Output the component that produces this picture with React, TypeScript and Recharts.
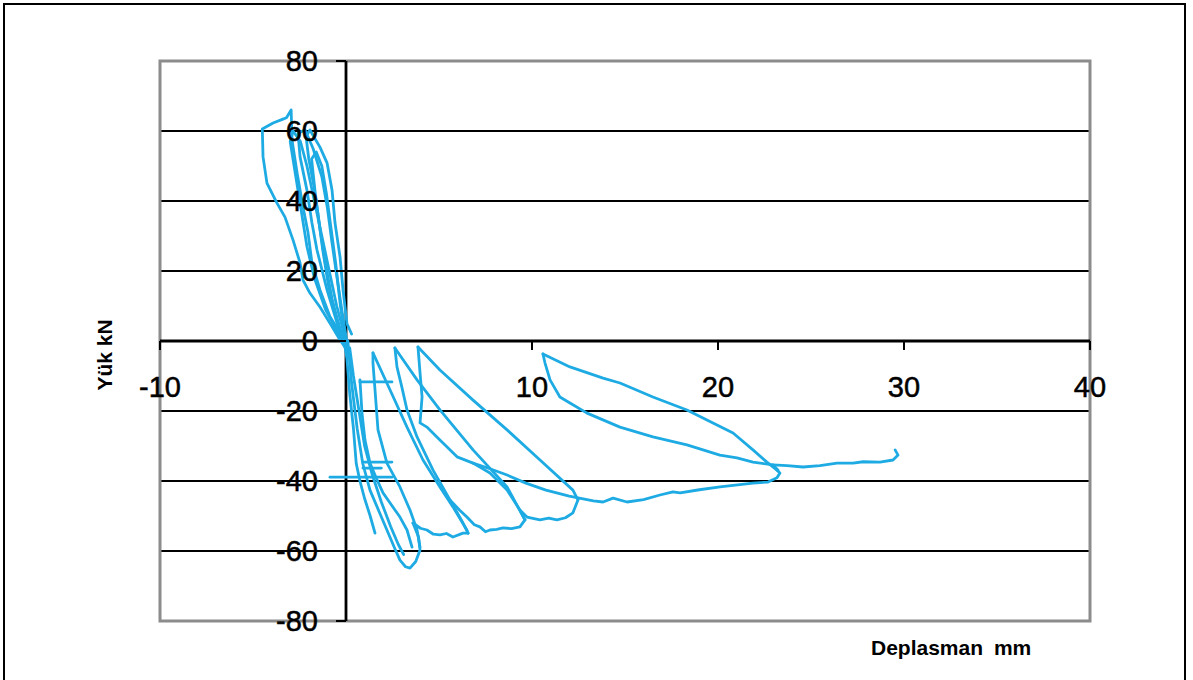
import React from 'react';
import { LineChart, Line, XAxis, YAxis, CartesianGrid, ReferenceLine, ReferenceArea } from 'recharts';

// displacement (mm), load (kN) pairs, one array per traced branch of the hysteresis curve
const negLoop1: [number, number][] = [
  [0.3, 2], [0.05, 5], [-0.16, 14.6], [-0.32, 24], [-0.59, 33.7], [-0.75, 43.1], [-1.02, 50.9], [-1.4, 55.4],
  [-1.94, 60.3], [-2.15, 58.5], [-2.0, 52], [-1.75, 45], [-1.5, 36], [-1.25, 26], [-0.95, 16], [-0.55, 7], [-0.1, 0],
];
const negLoop2: [number, number][] = [
  [0.1, -2], [-0.2, 8], [-0.48, 18], [-0.75, 28], [-1.0, 38], [-1.3, 47], [-1.77, 55], [-2.2, 60.3], [-2.58, 59.4],
  [-2.47, 52.6], [-2.1, 43.1], [-1.83, 33.7], [-1.56, 26], [-1.02, 14.6], [-0.48, 5.1], [0.05, -3],
];
const negLoop3: [number, number][] = [
  [0, -1], [-0.3, 10], [-0.55, 22], [-0.8, 32], [-1.05, 42], [-1.3, 50], [-1.6, 54], [-1.85, 52], [-1.65, 42],
  [-1.4, 32], [-1.1, 22], [-0.75, 12], [-0.3, 3], [0.15, -4],
];
const negLoop4: [number, number][] = [
  [0.05, -1], [-0.5, 10], [-0.9, 20], [-1.3, 30], [-1.7, 40], [-2.1, 50], [-2.45, 57], [-2.85, 60], [-3.0, 57],
  [-2.7, 47], [-2.4, 37], [-2.1, 27], [-1.7, 18], [-1.1, 9], [-0.4, 2], [0.1, -2],
];
const negLoop5: [number, number][] = [
  [0, -1], [-0.4, 3], [-0.86, 6.9], [-1.4, 14.6], [-1.83, 22.3], [-2.04, 30.9], [-2.31, 38.3], [-2.63, 48],
  [-2.9, 57.4], [-2.95, 66], [-3.2, 63.8], [-3.39, 63.4], [-3.92, 62.3], [-4.5, 60.6], [-4.46, 52.6], [-4.25, 45.1],
  [-3.71, 39.4], [-3.28, 35.4], [-2.85, 28.9], [-2.47, 22.3], [-2.31, 17.4], [-1.94, 13.7], [-1.4, 9.7],
  [-0.86, 5.1], [-0.32, 0.3], [0.1, -3],
];
const bandA: [number, number][] = [
  [-0.2, 3], [0.05, -5], [0.2, -15], [0.4, -25], [0.55, -35], [0.75, -40], [1.0, -45], [1.3, -50], [1.56, -54.9],
];
const bandB: [number, number][] = [
  [0.1, 0], [0.3, -12], [0.6, -25], [0.9, -35], [1.29, -42.6], [1.8, -49], [2.2, -54], [2.6, -59], [2.9, -62.6],
  [3.2, -64.5], [3.44, -64.9], [3.75, -63], [3.98, -59.7], [3.9, -56], [3.82, -54.9], [3.6, -52],
];
const bandC: [number, number][] = [
  [0.2, -2], [0.4, -10], [0.7, -20], [1.0, -30], [1.4, -38], [1.9, -46], [2.4, -53], [2.8, -58], [3.1, -61],
];
const fin1Inner: [number, number][] = [
  [0.75, -11.1], [0.86, -20.6], [1.02, -28.3], [1.29, -34.9], [1.67, -39.7], [1.99, -43.4], [2.37, -46.3],
  [2.9, -50.3], [3.28, -54], [3.55, -58.9],
];
const dashA: [number, number][] = [[0.75, -11.7], [2.47, -11.7]];
const dashB: [number, number][] = [[0.91, -34.6], [2.47, -34.6]];
const dashC: [number, number][] = [[-0.86, -38.9], [2.47, -38.9]];
const dashD: [number, number][] = [[0.91, -36.3], [1.9, -36.3]];
const fin1Curve: [number, number][] = [
  [1.45, -3.4], [1.45, -6.3], [1.56, -14], [1.72, -25.4], [2.2, -34.9], [2.9, -41.7], [3.44, -48.3], [3.82, -54],
  [3.98, -58.9],
];
const fin1Straight: [number, number][] = [
  [1.45, -3.4], [2.37, -14], [3.28, -24.6], [4.14, -34], [5.05, -41.7], [5.75, -47.4], [6.5, -54], [6.56, -54.9],
];
const fin2Bottom: [number, number][] = [
  [3.6, -52], [4.0, -53.5], [4.35, -54], [4.7, -55.2], [5.05, -55.4], [5.4, -55], [5.75, -56], [6.29, -54.9], [6.56, -54.9],
];
const fin2Curve: [number, number][] = [
  [2.63, -2], [2.74, -7.4], [3.0, -13.1], [3.28, -19.7], [3.82, -27.4], [4.68, -36.9], [5.59, -45.4], [6.29, -52], [6.56, -54.9],
];
const fin2Straight: [number, number][] = [
  [2.63, -2], [3.82, -11.1], [5.05, -19.7], [6.83, -31.1], [8.66, -41.7], [9.62, -51.1],
];
const fin3Bottom: [number, number][] = [
  [5.59, -45.4], [6.1, -48.3], [6.5, -50.3], [6.9, -52.5], [7.2, -53.1], [7.5, -54.5], [7.74, -54], [8.1, -53.8],
  [8.44, -53.4], [8.9, -53.6], [9.35, -53.1], [9.62, -51.1],
];
const fin3Curve: [number, number][] = [
  [3.87, -1.7], [3.98, -9.1], [4.09, -16], [3.98, -23.4], [4.35, -24.6], [5.05, -28.3], [5.97, -33.1], [6.83, -34.9],
  [7.74, -37.7], [8.66, -42.6], [9.35, -48.3], [9.62, -51.1],
];
const fin3Straight: [number, number][] = [
  [3.87, -1.7], [5.05, -8.3], [6.83, -16.9], [8.66, -25.4], [10.43, -34], [12.2, -42.6], [12.47, -45.4],
];
const fin4Bottom: [number, number][] = [
  [9.35, -48.3], [9.73, -50.3], [10.43, -51.1], [10.9, -50.6], [11.34, -51.1], [11.8, -50.5], [12.2, -49.1], [12.47, -45.4],
];
const envelope: [number, number][] = [
  [6.83, -34.9], [7.74, -36.5], [8.66, -38.3], [9.67, -40.6], [10.75, -42.6], [12.0, -44.3], [13.3, -45.7],
  [13.82, -46], [14.36, -44.9], [15.11, -46], [16.0, -45.3], [16.88, -44], [17.58, -43.1], [17.96, -43.4],
  [19.0, -42.5], [20.11, -41.7], [21.88, -40.6], [22.69, -40.3], [23.17, -39.1], [23.33, -37.7], [23.17, -36.9],
];
const bigLoopLower: [number, number][] = [
  [10.59, -3.7], [10.7, -6.3], [10.97, -11.1], [11.5, -16], [12.04, -17.7], [12.96, -20.6], [14.73, -24.6],
  [16.5, -27.4], [18.33, -29.7], [20.1, -32.6], [21.02, -33.4], [21.88, -34.6], [22.96, -35.4], [23.23, -36.9],
];
const bigLoopUpper: [number, number][] = [
  [10.59, -3.7], [12.04, -7.4], [13.82, -10.6], [14.73, -12], [16.5, -16], [18.33, -19.7], [19.73, -23.4],
  [20.81, -26.3], [21.88, -31.1], [22.63, -34.6], [23.17, -36.9],
];
const tail: [number, number][] = [
  [22.96, -35.4], [23.71, -35.6], [24.57, -36], [25.48, -35.6], [26.4, -34.9], [27.26, -34.9], [27.8, -34.5],
  [28.71, -34.6], [29.41, -34], [29.68, -32.6], [29.52, -31.1],
];

const branches = [
  negLoop1, negLoop2, negLoop3, negLoop4, negLoop5, bandA, bandB, bandC, fin1Inner, dashA, dashB, dashC, dashD,
  fin1Curve, fin1Straight, fin2Bottom, fin2Curve, fin2Straight, fin3Bottom, fin3Curve, fin3Straight, fin4Bottom,
  envelope, bigLoopLower, bigLoopUpper, tail,
];

const xTicks = [-10, 10, 20, 30, 40];
const yTicks = [-80, -60, -40, -20, 0, 20, 40, 60, 80];

const W = 1193;
const H = 680;
const AXIS_W = 30;
const AXIS_H = 30;
// outer edges of the plot box: left 160, top 61, right 1090, bottom 621
const margin = { top: 61, right: 103, bottom: 59 - AXIS_H, left: 160 - AXIS_W };
const X_MIN = -10, X_MAX = 40, Y_MIN = -80, Y_MAX = 80;
const plotLeft = 160;
const plotTop = 61;
const plotW = 930;
const plotH = 560;
// axes cross at zero, like the original
const zeroX = plotLeft + ((0 - X_MIN) / (X_MAX - X_MIN)) * plotW;
const zeroY = plotTop + ((Y_MAX - 0) / (Y_MAX - Y_MIN)) * plotH;

const font = '"Liberation Sans", Arial, sans-serif';
const blue = '#1eabe3';

const renderXTick = (props: any) => {
  const { x, payload } = props;
  return (
    <g key={`xt-${payload.value}`}>
      <line x1={x} x2={x} y1={zeroY} y2={zeroY + 9} stroke="#000" strokeWidth={2} />
      <text x={x} y={zeroY + 56} textAnchor="middle" fontFamily={font} fontSize={29} fill="#000" stroke="#000" strokeWidth={0.5}>
        {payload.value}
      </text>
    </g>
  );
};

const renderYTick = (props: any) => {
  const { y, payload } = props;
  return (
    <g key={`yt-${payload.value}`}>
      <line x1={zeroX - 10} x2={zeroX} y1={y} y2={y} stroke="#000" strokeWidth={2} />
      <text x={zeroX - 28} y={y + 10} textAnchor="end" fontFamily={font} fontSize={29} fill="#000" stroke="#000" strokeWidth={0.5}>
        {payload.value}
      </text>
    </g>
  );
};

export default function App() {
  return (
    <div style={{ position: 'absolute', left: 0, top: 0, width: W, height: H, background: '#fff', overflow: 'hidden' }}>
      <div
        style={{
          position: 'absolute', left: 3, top: 3, width: 1179, height: 720,
          border: '2px solid #000', boxSizing: 'content-box',
        }}
      />
      <div style={{ position: 'absolute', left: 0, top: 0 }}>
        <LineChart width={W} height={H} margin={margin}>
          <CartesianGrid vertical={false} stroke="#000" strokeWidth={2} />
          <XAxis
            type="number"
            dataKey="x"
            domain={[X_MIN, X_MAX]}
            ticks={xTicks}
            interval={0}
            height={AXIS_H}
            axisLine={false}
            tickLine={false}
            tick={renderXTick}
          />
          <YAxis
            type="number"
            domain={[Y_MIN, Y_MAX]}
            ticks={yTicks}
            interval={0}
            width={AXIS_W}
            axisLine={false}
            tickLine={false}
            tick={renderYTick}
          />
          <ReferenceArea x1={X_MIN} x2={X_MAX} y1={Y_MIN} y2={Y_MAX} fill="none" stroke="#8c8c8c" strokeWidth={3} />
          <ReferenceLine y={0} stroke="#000" strokeWidth={2.8} />
          <ReferenceLine x={0} stroke="#000" strokeWidth={2.8} />
          {branches.map((b, i) => (
            <Line
              key={i}
              data={b.map(([x, y]) => ({ x, y }))}
              dataKey="y"
              type="linear"
              stroke={blue}
              strokeWidth={2.8}
              strokeLinejoin="round"
              strokeLinecap="round"
              dot={false}
              activeDot={false}
              isAnimationActive={false}
            />
          ))}
          <text
            x={112}
            y={355}
            transform="rotate(-90, 112, 355)"
            textAnchor="middle"
            fontFamily={font}
            fontWeight="bold"
            fontSize={21}
            fill="#000"
          >
            Yük kN
          </text>
          <text x={871} y={655} fontFamily={font} fontWeight="bold" fontSize={21} wordSpacing={5} fill="#000">
            Deplasman mm
          </text>
        </LineChart>
      </div>
    </div>
  );
}
